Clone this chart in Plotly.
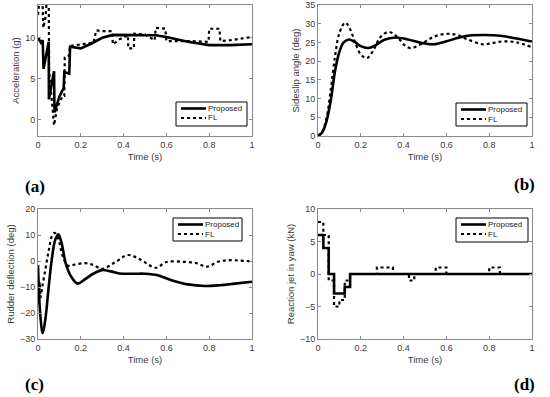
import plotly.graph_objects as go

# ---------------- data ----------------
# (a) Acceleration (g)
t_acc_prop = [0, 0.014, 0.022, 0.026, 0.05, 0.051, 0.075, 0.077, 0.1, 0.12, 0.123, 0.146, 0.15,
              0.17, 0.2, 0.25, 0.3, 0.35, 0.45, 0.55, 0.6, 0.7, 0.8, 0.9, 1.0]
acc_prop = [10.0, 9.4, 9.7, 6.2, 9.5, 2.5, 5.9, 0.9, 2.8, 3.9, 5.8, 5.6, 8.9,
            8.8, 8.7, 9.3, 10.0, 10.35, 10.3, 10.3, 10.1, 9.5, 9.1, 9.1, 9.2]
t_acc_fl = [0, 0.008, 0.02, 0.025, 0.035, 0.042, 0.05, 0.052, 0.075, 0.09, 0.115, 0.123, 0.125,
            0.145, 0.15, 0.2, 0.26, 0.272, 0.3, 0.345, 0.35, 0.38, 0.42, 0.422, 0.448, 0.45,
            0.5, 0.545, 0.55, 0.595, 0.6, 0.7, 0.797, 0.8, 0.848, 0.852, 0.9, 1.0]
acc_fl = [12.8, 15, 15, 11.2, 12.5, 15, 15, 6.0, -0.7, 1.5, 2.9, 2.9, 7.6,
          7.8, 9.0, 9.2, 9.4, 10.9, 10.8, 10.8, 9.2, 9.8, 10.3, 8.7, 8.7, 10.5,
          10.4, 9.7, 11.2, 11.1, 9.6, 9.6, 9.5, 11.1, 11.1, 9.6, 9.7, 10.1]

# (b) Sideslip angle (deg)
t_ss_prop = [0, 0.02, 0.04, 0.06, 0.08, 0.10, 0.12, 0.145, 0.17, 0.2, 0.235, 0.27, 0.31, 0.36,
             0.42, 0.48, 0.54, 0.6, 0.66, 0.72, 0.78, 0.85, 0.92, 1.0]
ss_prop = [0, 1.0, 4.0, 9.6, 17.5, 22.5, 25.0, 25.8, 25.2, 24.0, 23.5, 24.3, 25.7, 26.3,
           25.8, 24.9, 24.5, 25.3, 26.3, 26.9, 27.0, 26.8, 26.1, 25.2]
t_ss_fl = [0, 0.02, 0.04, 0.06, 0.08, 0.1, 0.127, 0.15, 0.18, 0.2, 0.228, 0.26, 0.29, 0.33,
           0.37, 0.4, 0.43, 0.48, 0.54, 0.6, 0.65, 0.7, 0.77, 0.82, 0.87, 0.93, 1.0]
ss_fl = [0, 1.2, 4.8, 12.5, 21.5, 27.5, 30.3, 28.5, 24.0, 21.8, 20.8, 23.0, 26.3, 27.8,
         26.5, 24.5, 23.5, 24.5, 26.5, 27.3, 27.0, 25.8, 24.5, 24.9, 25.3, 25.0, 23.7]

# (c) Rudder deflection (deg)
t_rud_prop = [0, 0.01, 0.022, 0.035, 0.05, 0.065, 0.08, 0.095, 0.11, 0.13, 0.155, 0.185, 0.22,
              0.26, 0.3, 0.34, 0.38, 0.45, 0.5, 0.56, 0.62, 0.7, 0.78, 0.85, 0.92, 1.0]
rud_prop = [-1.5, -20, -27.8, -22, -10, 1, 8, 10.3, 7, -1, -6, -8.7, -7,
            -4.8, -3.5, -4.0, -4.8, -4.9, -4.9, -5.5, -7.3, -9, -9.6, -9.3, -8.7, -8.0]
t_rud_fl = [0, 0.004, 0.008, 0.012, 0.02, 0.035, 0.05, 0.065, 0.078, 0.095, 0.115, 0.14, 0.17,
            0.22, 0.26, 0.3, 0.36, 0.42, 0.48, 0.55, 0.6, 0.68, 0.74, 0.79, 0.84, 0.9, 1.0]
rud_fl = [-9, -16, -8, -14, -10, -3, 4, 9.5, 10.8, 8.5, 2, -1.8, -1.4,
          -0.8, -1.6, -3.0, -0.5, 2.3, 0.5, -2.6, -0.4, -0.3, -0.8, -2.2, -0.3, 0.3, -0.2]

# (d) Reaction jet in yaw (kN)  (step signals)
t_jet_prop = [0, 0.025, 0.05, 0.075, 0.125, 0.15, 1.0]
jet_prop = [6, 4, 0, -3, -2, 0, 0]
t_jet_fl = [0, 0.025, 0.05, 0.075, 0.1, 0.125, 0.15, 0.275, 0.35, 0.425, 0.45, 0.55, 0.6,
            0.8, 0.85, 1.0]
jet_fl = [8, 6, -1, -5, -4, -1, 0, 1, 0, -1, 0, 1, 0, 1, 0, 0]

x_ticks = [0, 0.2, 0.4, 0.6, 0.8, 1]
x_ticklabels = ["0", "0.2", "0.4", "0.6", "0.8", "1"]
series_names = ["Proposed", "FL"]

# ---------------- figure ----------------
W, H = 550, 397
fig = go.Figure()

def px_x(x):
    return x / W

def px_y(y):
    return 1 - y / H

panels = [
    dict(xa="x", ya="y", xd=(38, 252), yd=(5, 136), yr=[-2, 14], dt=5, yt="Acceleration (g)",
         box=(176, 102, 247, 126), lab="(a)", labpos=(35, 186)),
    dict(xa="x2", ya="y2", xd=(318, 532), yd=(5, 136), yr=[0, 35], dt=5, yt="Sideslip angle (deg)",
         box=(456, 103, 527, 126), lab="(b)", labpos=(524, 184)),
    dict(xa="x3", ya="y3", xd=(38, 252), yd=(209, 339), yr=[-30, 20], dt=10, yt="Rudder deflection (deg)",
         box=(173, 218, 242, 241), lab="(c)", labpos=(35, 384)),
    dict(xa="x4", ya="y4", xd=(318, 532), yd=(209, 339), yr=[-10, 10], dt=5, yt="Reaction jet in yaw (kN)",
         box=(456, 218, 528, 242), lab="(d)", labpos=(524, 384)),
]

series = [
    (t_acc_prop, acc_prop, t_acc_fl, acc_fl, "linear"),
    (t_ss_prop, ss_prop, t_ss_fl, ss_fl, "spline"),
    (t_rud_prop, rud_prop, t_rud_fl, rud_fl, "spline"),
    (t_jet_prop, jet_prop, t_jet_fl, jet_fl, "hv"),
]

FONT = "Arial, Liberation Sans, sans-serif"
tick_font = dict(family=FONT, size=9, color="#3a3a3a")
title_font = dict(family=FONT, size=9.5, color="#3a3a3a")
AX = "#8a8a8a"

layout_axes = {}
shapes = []
annotations = []
for i, (p, s) in enumerate(zip(panels, series)):
    tp, vp, tf, vf, shp = s
    fig.add_trace(go.Scatter(x=tp, y=vp, mode="lines", name=series_names[0],
                             line=dict(color="black", width=2.6, shape=shp),
                             xaxis=p["xa"], yaxis=p["ya"], showlegend=False))
    fig.add_trace(go.Scatter(x=tf, y=vf, mode="lines", name=series_names[1],
                             line=dict(color="black", width=2.2, dash="dot", shape=shp),
                             xaxis=p["xa"], yaxis=p["ya"], showlegend=False))
    xname = "xaxis" if i == 0 else f"xaxis{i+1}"
    yname = "yaxis" if i == 0 else f"yaxis{i+1}"
    layout_axes[xname] = dict(
        domain=[px_x(p["xd"][0]), px_x(p["xd"][1])], anchor=p["ya"], range=[0, 1],
        tickvals=x_ticks, ticktext=x_ticklabels, ticks="inside", ticklen=3, tickcolor=AX,
        showline=True, linecolor=AX, linewidth=1, mirror="ticks", showgrid=False,
        zeroline=False, tickfont=tick_font, automargin=False,
        title=dict(text="Time (s)", font=title_font, standoff=4))
    layout_axes[yname] = dict(
        domain=[px_y(p["yd"][1]), px_y(p["yd"][0])], anchor=p["xa"], range=p["yr"],
        dtick=p["dt"], tick0=0, ticks="inside", ticklen=3, tickcolor=AX,
        showline=True, linecolor=AX, linewidth=1, mirror="ticks", showgrid=False,
        zeroline=False, tickfont=tick_font, automargin=False,
        title=dict(text=p["yt"], font=title_font, standoff=3))

    # legend box (drawn manually to match compact MATLAB legend)
    x0, y0, x1, y1 = p["box"]
    shapes.append(dict(type="rect", xref="paper", yref="paper",
                       x0=px_x(x0), x1=px_x(x1), y0=px_y(y1), y1=px_y(y0),
                       line=dict(color="black", width=1), fillcolor="white", layer="above"))
    ly1 = y0 + 6.5
    ly2 = y0 + 16
    lx0 = x0 + 5
    lx1 = x0 + 30
    shapes.append(dict(type="line", xref="paper", yref="paper",
                       x0=px_x(lx0), x1=px_x(lx1), y0=px_y(ly1), y1=px_y(ly1),
                       line=dict(color="black", width=2.6), layer="above"))
    shapes.append(dict(type="line", xref="paper", yref="paper",
                       x0=px_x(lx0), x1=px_x(lx1), y0=px_y(ly2), y1=px_y(ly2),
                       line=dict(color="black", width=2.2, dash="dot"), layer="above"))
    for name, ly in zip(series_names, (ly1, ly2)):
        annotations.append(dict(text=name, x=px_x(lx1), y=px_y(ly), xref="paper", yref="paper",
                                showarrow=False, xanchor="left", yanchor="middle",
                                font=dict(family=FONT, size=8, color="#222")))
    annotations.append(dict(
        text="<b>" + p["lab"] + "</b>", x=px_x(p["labpos"][0]), y=px_y(p["labpos"][1]),
        xref="paper", yref="paper", showarrow=False, xanchor="center", yanchor="middle",
        font=dict(family="Liberation Serif, Times New Roman, serif", size=17, color="black")))

fig.update_layout(
    width=W, height=H, margin=dict(l=0, r=0, t=0, b=0),
    paper_bgcolor="white", plot_bgcolor="white", showlegend=False,
    annotations=annotations, shapes=shapes, **layout_axes)

fig.write_html("out.html", config={"displayModeBar": False},
               post_script="document.body.style.margin='0';document.body.style.overflow='hidden';")
